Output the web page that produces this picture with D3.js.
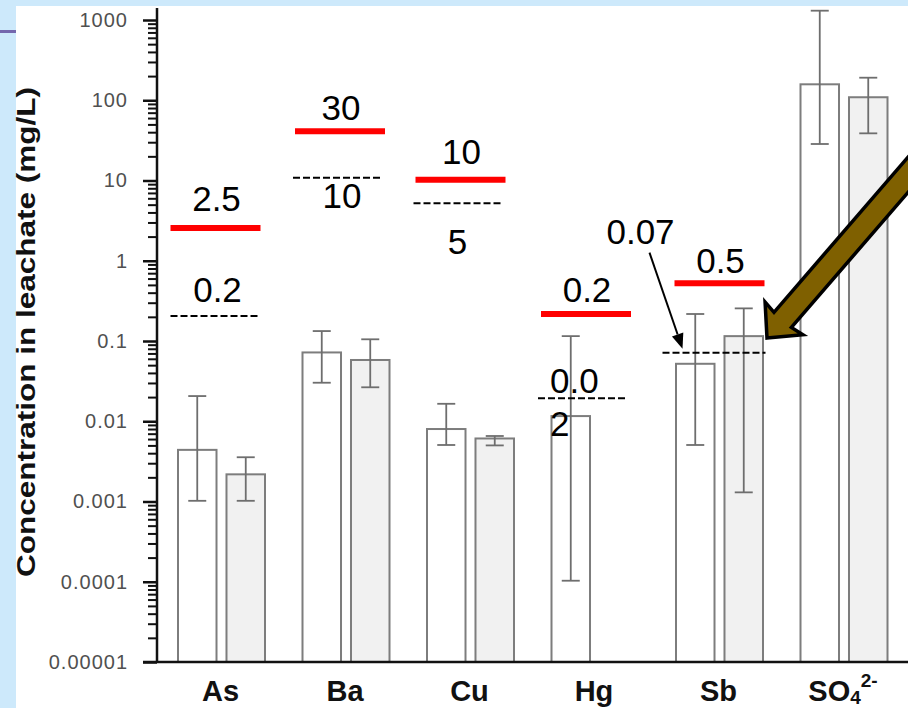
<!DOCTYPE html>
<html>
<head>
<meta charset="utf-8">
<script src="https://cdn.jsdelivr.net/npm/d3@7/dist/d3.min.js"></script>
<style>
  html, body { margin: 0; padding: 0; background: #cde9fb; }
  svg { display: block; }
</style>
</head>
<body>
<svg id="chart" width="908" height="708"></svg>
<script>
// ---------------- data ----------------
const categories = ["As", "Ba", "Cu", "Hg", "Sb", "SO4"];
const series = ["white", "grey"];

const whiteValues = [0.0044, 0.072, 0.0080, 0.0116, 0.052, 158];
const whiteErrHigh = [0.0206, 0.133, 0.0165, 0.115, 0.217, 1306];
const whiteErrLow  = [0.00102, 0.0302, 0.00506, 0.000103, 0.00506, 28.5];

const greyValues  = [0.00218, 0.058, 0.0061, null, 0.115, 109];
const greyErrHigh = [0.00356, 0.105, 0.00655, null, 0.255, 191];
const greyErrLow  = [0.00102, 0.0265, 0.0050, null, 0.0013, 38.7];

// red (solid) limit lines: label text and plotted level
const redLabels = ["2.5", "30", "10", "0.2", "0.5", null];
const redLevels = [2.56, 41, 10.2, 0.217, 0.524, null];
// black dashed limit lines
const dashLabels = ["0.2", "10", "5", "0.02", "0.07", null];
const dashLevels = [0.205, 10.8, 5.2, 0.0193, 0.0715, null];

const yTickValues = [1e-5, 1e-4, 1e-3, 1e-2, 1e-1, 1, 10, 100, 1000];
const yTickLabels = ["0.00001", "0.0001", "0.001", "0.01", "0.1", "1", "10", "100", "1000"];
const yTitle = "Concentration in leachate (mg/L)";

// ---------------- layout ----------------
const svg = d3.select("#chart");
const W = 908, H = 708;

// slide background
svg.append("rect").attr("x", 0).attr("y", 0).attr("width", W).attr("height", H).attr("fill", "#cde9fb");
svg.append("rect").attr("x", 16).attr("y", 6).attr("width", W - 16).attr("height", H - 6).attr("fill", "#ffffff");
svg.append("rect").attr("x", 0).attr("y", 30).attr("width", 16).attr("height", 3).attr("fill", "#7467ad");

const axisX = 157, baseY = 662;
const y = d3.scaleLog().domain([1e-5, 1000]).range([baseY, 20]);
const x = d3.scaleBand().domain(categories).range([159.25, 906.25]).padding(0);
const xs = d3.scaleBand().domain(series).range([18.75, 105.75]).paddingInner(0.206).paddingOuter(0);

const rows = categories.map((c, i) => ({
  cat: c, i,
  bars: [
    { s: "white", v: whiteValues[i], hi: whiteErrHigh[i], lo: whiteErrLow[i] },
    { s: "grey",  v: greyValues[i],  hi: greyErrHigh[i],  lo: greyErrLow[i] }
  ].filter(b => b.v != null)
}));

// bars
const g = svg.append("g");
const groups = g.selectAll("g.grp").data(rows).join("g")
  .attr("class", "grp")
  .attr("transform", d => `translate(${x(d.cat)},0)`);

groups.selectAll("rect").data(d => d.bars).join("rect")
  .attr("x", b => xs(b.s))
  .attr("y", b => y(b.v))
  .attr("width", xs.bandwidth())
  .attr("height", b => baseY - y(b.v))
  .attr("fill", b => b.s === "white" ? "#ffffff" : "#f1f1f1")
  .attr("stroke", "#7d7d7d")
  .attr("stroke-width", 2);

// error bars
const cap = 9;
const eb = groups.selectAll("g.err").data(d => d.bars).join("g").attr("class", "err")
  .attr("stroke", "#6e6e6e").attr("stroke-width", 1.8).attr("fill", "none");
eb.append("line")
  .attr("x1", b => xs(b.s) + xs.bandwidth() / 2).attr("x2", b => xs(b.s) + xs.bandwidth() / 2)
  .attr("y1", b => y(b.hi)).attr("y2", b => y(b.lo));
eb.append("line")
  .attr("x1", b => xs(b.s) + xs.bandwidth() / 2 - cap).attr("x2", b => xs(b.s) + xs.bandwidth() / 2 + cap)
  .attr("y1", b => y(b.hi)).attr("y2", b => y(b.hi));
eb.append("line")
  .attr("x1", b => xs(b.s) + xs.bandwidth() / 2 - cap).attr("x2", b => xs(b.s) + xs.bandwidth() / 2 + cap)
  .attr("y1", b => y(b.lo)).attr("y2", b => y(b.lo));

// y axis: minor ticks
const minorVals = [];
for (let e = -5; e < 3; e++) for (let m = 2; m <= 9; m++) minorVals.push(m * Math.pow(10, e));
const minorAxis = d3.axisLeft(y).tickValues(minorVals).tickSize(9).tickFormat("");
const gMinor = svg.append("g").attr("transform", `translate(${axisX},0)`).call(minorAxis);
gMinor.select(".domain").remove();
gMinor.selectAll(".tick line").attr("stroke", "#111").attr("stroke-width", 2);

// y axis: major ticks + labels
const majorAxis = d3.axisLeft(y).tickValues(yTickValues).tickSize(14).tickPadding(15)
  .tickFormat((d, i) => yTickLabels[i]);
const gMajor = svg.append("g").attr("transform", `translate(${axisX},0)`).call(majorAxis);
gMajor.select(".domain").remove();
gMajor.selectAll(".tick line").attr("stroke", "#111").attr("stroke-width", 2.5);
gMajor.selectAll(".tick text")
  .attr("fill", "#505050")
  .style("font-family", "'Liberation Sans', Arial, sans-serif")
  .style("font-size", "20px")
  .style("letter-spacing", "1px");

// axis lines
svg.append("line").attr("x1", axisX).attr("x2", axisX).attr("y1", 8).attr("y2", baseY + 1)
  .attr("stroke", "#111").attr("stroke-width", 2.5);
svg.append("line").attr("x1", 143).attr("x2", W).attr("y1", baseY).attr("y2", baseY)
  .attr("stroke", "#111").attr("stroke-width", 2.5);

// y title
svg.append("text")
  .attr("transform", "translate(35,332) rotate(-90)")
  .attr("text-anchor", "middle")
  .attr("textLength", 490)
  .attr("lengthAdjust", "spacingAndGlyphs")
  .style("font-family", "'Liberation Sans', Arial, sans-serif")
  .style("font-weight", "bold")
  .style("font-size", "25px")
  .attr("fill", "#111")
  .text(yTitle);

// x labels
const xl = svg.append("g").selectAll("text").data(categories).join("text")
  .attr("x", d => x(d) + x.bandwidth() / 2 - 1)
  .attr("y", 701)
  .attr("text-anchor", "middle")
  .style("font-family", "'Liberation Sans', Arial, sans-serif")
  .style("font-weight", "bold")
  .style("font-size", "29px")
  .attr("fill", "#111");
xl.each(function (d) {
  const t = d3.select(this);
  if (d === "SO4") {
    t.append("tspan").text("SO");
    t.append("tspan").attr("dy", 3).style("font-size", "19px").text("4");
    t.append("tspan").attr("dy", -17).style("font-size", "19px").text("2-");
  } else {
    t.text(d);
  }
});

// limit lines (layout offsets relative to group centre)
const lineStart = [-51, -51, -55, -54, -45, 0];
const dashStart = [-51, -53, -57, -57, -57, 0];
const lineLen = 90;
const dashLen = [90, 90, 90, 90, 103, 0];
const redDy = [-17, -11, -16, -12, -10, 0];
const font35 = sel => sel.style("font-family", "'Liberation Sans', Arial, sans-serif").style("font-size", "35px").attr("fill", "#000");

const lim = svg.append("g");
categories.forEach((c, i) => {
  const cx = x(c) + x.bandwidth() / 2;
  if (dashLevels[i] != null) {
    const x0 = cx + dashStart[i], yy = y(dashLevels[i]);
    lim.append("line").attr("x1", x0).attr("x2", x0 + dashLen[i]).attr("y1", yy).attr("y2", yy)
      .attr("stroke", "#000").attr("stroke-width", 2).attr("stroke-dasharray", "7,3");
  }
  if (redLevels[i] != null) {
    const x0 = cx + lineStart[i], yy = y(redLevels[i]);
    lim.append("line").attr("x1", x0).attr("x2", x0 + lineLen).attr("y1", yy).attr("y2", yy)
      .attr("stroke", "#ff0000").attr("stroke-width", 6);
    lim.append("text").attr("x", x0 + lineLen / 2 + 1).attr("y", yy + redDy[i])
      .attr("text-anchor", "middle").call(font35).text(redLabels[i]);
  }
});

// dashed-line labels
function dashLabel(i, dx, dy, anchor, txt) {
  const cx = x(categories[i]) + x.bandwidth() / 2;
  lim.append("text").attr("x", cx + dx).attr("y", y(dashLevels[i]) + dy)
    .attr("text-anchor", anchor).call(font35).text(txt);
}
dashLabel(0, -4, -14, "middle", dashLabels[0]);
dashLabel(1, -4, 30, "middle", dashLabels[1]);
dashLabel(2, -13, 51, "middle", dashLabels[2]);
dashLabel(3, -45, -5, "start", dashLabels[3].slice(0, 3));
dashLabel(3, -45, 38, "start", dashLabels[3].slice(3));
dashLabel(4, -79, -109, "middle", dashLabels[4]);

// small pointer arrow from "0.07" to its dashed line
{
  const cx = x("Sb") + x.bandwidth() / 2;
  const yy = y(dashLevels[4]);
  const x1 = cx - 70, y1 = yy - 100, x2 = cx - 37, y2 = yy - 4;
  const ang = Math.atan2(y2 - y1, x2 - x1);
  const hl = 15, hw = 6;
  const bx = x2 - hl * Math.cos(ang), by = y2 - hl * Math.sin(ang);
  lim.append("line").attr("x1", x1).attr("y1", y1).attr("x2", bx).attr("y2", by)
    .attr("stroke", "#000").attr("stroke-width", 2);
  lim.append("path")
    .attr("d", `M${x2},${y2}L${bx + hw * Math.sin(ang)},${by - hw * Math.cos(ang)}L${bx - hw * Math.sin(ang)},${by + hw * Math.cos(ang)}Z`)
    .attr("fill", "#000");
}

// big olive block arrow pointing at the Sb bars
{
  const T = [767, 338];
  const u = [0.654, -0.757];
  const p = [0.757, 0.654];
  const hl = 26, hw = 25, sw = 11.5, tail = 260;
  const pt = (a, b) => [T[0] + a * u[0] + b * p[0], T[1] + a * u[1] + b * p[1]];
  const pts = [pt(0, 0), pt(hl, hw), pt(hl - 2, sw), pt(tail, sw), pt(tail, -sw), pt(hl - 2, -sw), pt(hl, -hw)];
  svg.append("path")
    .attr("d", "M" + pts.map(q => q.join(",")).join("L") + "Z")
    .attr("fill", "#7f6000")
    .attr("stroke", "#000")
    .attr("stroke-width", 3.5)
    .attr("stroke-linejoin", "miter");
}
</script>
</body>
</html>
